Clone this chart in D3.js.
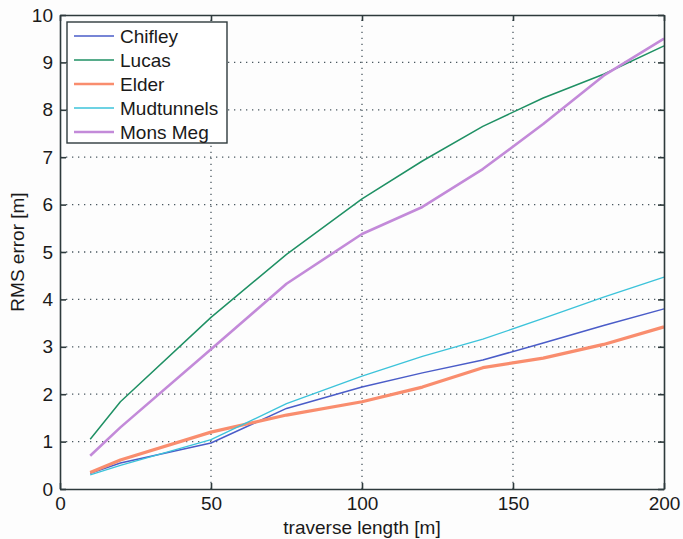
<!DOCTYPE html>
<html>
<head>
<meta charset="utf-8">
<script src="https://cdn.jsdelivr.net/npm/d3@7"></script>
<style>
  html, body { margin: 0; padding: 0; background: #fdfdfd; }
  svg { display: block; }
  text { font-family: "Liberation Sans", Arial, Helvetica, sans-serif; fill: #1a1a1a; }
</style>
</head>
<body>
<svg id="chart" width="683" height="539"></svg>
<script>
const lengths = [10, 20, 50, 75, 100, 120, 140, 160, 180, 200];
const seriesNames = ["Chifley", "Lucas", "Elder", "Mudtunnels", "Mons Meg"];
const chifley    = [0.33, 0.55, 0.97, 1.70, 2.15, 2.45, 2.72, 3.08, 3.45, 3.80];
const lucas      = [1.05, 1.84, 3.62, 4.95, 6.12, 6.92, 7.65, 8.25, 8.75, 9.35];
const elder      = [0.35, 0.61, 1.20, 1.56, 1.84, 2.15, 2.56, 2.76, 3.05, 3.42];
const mudtunnels = [0.30, 0.50, 1.04, 1.80, 2.38, 2.80, 3.16, 3.60, 4.05, 4.47];
const monsMeg    = [0.70, 1.30, 2.95, 4.33, 5.38, 5.95, 6.75, 7.70, 8.72, 9.50];
const xTicks = [0, 50, 100, 150, 200];
const yTicks = [0, 1, 2, 3, 4, 5, 6, 7, 8, 9, 10];

const seriesValues = [chifley, lucas, elder, mudtunnels, monsMeg];
const colors = ["#4a5cc8", "#1f9064", "#f98d6e", "#3cc3da", "#c38ad9"];
const widths = [1.5, 1.5, 3.2, 1.3, 2.6];
const FS = 19;

const svg = d3.select("#chart");
const L = 60, R = 664, T = 15, B = 489;
const x = d3.scaleLinear().domain([0, 200]).range([L, R]);
const y = d3.scaleLinear().domain([0, 10]).range([B, T]);

// grid
const grid = svg.append("g").attr("stroke", "#4a5860").attr("stroke-width", 1.3)
  .attr("stroke-dasharray", "1.3,4.7").attr("fill", "none");
xTicks.slice(1, -1).forEach(t => {
  grid.append("line").attr("x1", x(t)).attr("x2", x(t)).attr("y1", B).attr("y2", T);
});
yTicks.slice(1, -1).forEach(t => {
  grid.append("line").attr("x1", L).attr("x2", R).attr("y1", y(t)).attr("y2", y(t));
});

// lines
const line = d3.line().x((d, i) => x(lengths[i])).y(d => y(d));
seriesValues.forEach((vals, k) => {
  svg.append("path").datum(vals).attr("d", line)
    .attr("fill", "none").attr("stroke", colors[k]).attr("stroke-width", widths[k])
    .attr("stroke-linejoin", "round");
});

// axes (matlab-like box with inward ticks)
const axisColor = "#2e3a3c";
const xAxisB = d3.axisBottom(x).tickValues(xTicks).tickSizeInner(-6).tickSizeOuter(0).tickPadding(8);
const xAxisT = d3.axisTop(x).tickValues(xTicks).tickSizeInner(-6).tickSizeOuter(0).tickFormat("");
const yAxisL = d3.axisLeft(y).tickValues(yTicks).tickSizeInner(-6).tickSizeOuter(0).tickPadding(7);
const yAxisR = d3.axisRight(y).tickValues(yTicks).tickSizeInner(-6).tickSizeOuter(0).tickFormat("");

function style(g) {
  g.selectAll("path").attr("stroke", axisColor).attr("stroke-width", 1.6);
  g.selectAll("line").attr("stroke", axisColor).attr("stroke-width", 1.6);
  g.selectAll("text").attr("font-size", FS).attr("fill", "#1a1a1a")
    .attr("font-family", '"Liberation Sans", Arial, sans-serif');
}
svg.append("g").attr("transform", `translate(0,${B})`).call(xAxisB).call(style);
svg.append("g").attr("transform", `translate(0,${T})`).call(xAxisT).call(style);
svg.append("g").attr("transform", `translate(${L},0)`).call(yAxisL).call(style);
svg.append("g").attr("transform", `translate(${R},0)`).call(yAxisR).call(style);

// axis labels
svg.append("text").attr("x", (L + R) / 2).attr("y", 534).attr("text-anchor", "middle")
  .attr("font-size", FS).text("traverse length [m]");
svg.append("text").attr("transform", `translate(24,${(T + B) / 2}) rotate(-90)`)
  .attr("text-anchor", "middle").attr("font-size", FS).text("RMS error [m]");

// legend
const lg = svg.append("g");
lg.append("rect").attr("x", 67).attr("y", 22).attr("width", 160).attr("height", 121)
  .attr("fill", "#ffffff").attr("stroke", axisColor).attr("stroke-width", 1.4);
seriesNames.forEach((name, k) => {
  const yy = 36 + k * 24;
  lg.append("line").attr("x1", 74).attr("x2", 114).attr("y1", yy).attr("y2", yy)
    .attr("stroke", colors[k]).attr("stroke-width", Math.min(widths[k], 2.4));
  lg.append("text").attr("x", 120).attr("y", yy + 7).attr("font-size", FS).text(name);
});
</script>
</body>
</html>
